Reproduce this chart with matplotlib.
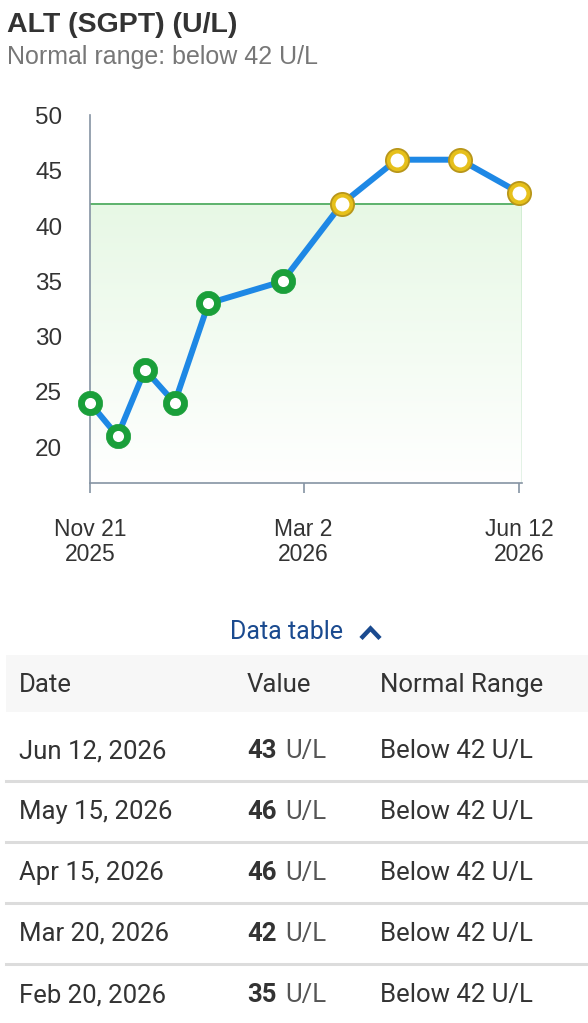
import numpy as np
import matplotlib.pyplot as plt
import matplotlib.dates as mdates
from matplotlib.lines import Line2D
from matplotlib.patches import Rectangle
from matplotlib.text import Annotation
from matplotlib.colors import LinearSegmentedColormap
from datetime import datetime

# chart data
dates = ["2025-11-21", "2025-12-04", "2025-12-17", "2025-12-31", "2026-01-16",
         "2026-02-20", "2026-03-20", "2026-04-15", "2026-05-15", "2026-06-12"]
values = [24, 21, 27, 24, 33, 35, 42, 46, 46, 43]
normal_max = 42

tick_dates = ["2025-11-21", "2026-03-02", "2026-06-12"]
tick_labels = ["Nov 21\n2025", "Mar 2\n2026", "Jun 12\n2026"]
y_ticks = [20, 25, 30, 35, 40, 45, 50]

# table data
table_dates = ["Jun 12, 2026", "May 15, 2026", "Apr 15, 2026", "Mar 20, 2026", "Feb 20, 2026"]
table_values = [43, 46, 46, 42, 35]
table_range = ["Below 42 U/L"] * 5

W, H = 588, 1023
plt.rcParams['font.family'] = ['Liberation Sans', 'DejaVu Sans']

fig = plt.figure(figsize=(W / 100, H / 100), dpi=100)


def fx(x):
    return x / W


def fy(y):
    return 1 - y / H


# header text
fig.text(fx(7), fy(25), "ALT (SGPT) (U/L)", fontsize=20.5, fontweight='bold',
         color='#333333', va='center', ha='left')
fig.text(fx(7), fy(57), "Normal range: below 42 U/L", fontsize=18,
         color='#777777', va='center', ha='left')

ax = fig.add_axes([fx(90), fy(483), fx(522) - fx(90), fy(115.5) - fy(483)])

x = mdates.date2num([datetime.strptime(d, "%Y-%m-%d") for d in dates])
xt = mdates.date2num([datetime.strptime(d, "%Y-%m-%d") for d in tick_dates])

x0, x1 = x[0], x[-1] + 1.2
y0, y1 = 16.75, 50.0
ax.set_xlim(x0, x1)
ax.set_ylim(y0, y1)

# normal range band with vertical gradient
grad = np.linspace(0, 1, 256).reshape(-1, 1)
cmap = LinearSegmentedColormap.from_list("g", ["#ffffff", "#e7f8e5"])
ax.imshow(grad, extent=[x0, x1, y0, normal_max], origin='lower', cmap=cmap,
          aspect='auto', zorder=0)
ax.plot([x0, x1], [normal_max, normal_max], color='#5db36c', lw=1.4, zorder=1)
ax.plot([x1, x1], [y0, normal_max], color='#7cc48a', lw=1.0, zorder=1)

ax.plot(x, values, color='#1e88e5', lw=4.3, zorder=2, solid_capstyle='round',
        clip_on=False)

vals = np.array(values)
high = vals >= normal_max
# (mask, ring colour, ring edge, edge width, inner white size)
styles = [(~high, '#1a9f3a', '#1a9f3a', 0.5, 8.0),
          (high, '#e6c01a', '#b8961a', 1.3, 10.0)]
for mask, face, edge, mew, inner in styles:
    ax.plot(x[mask], vals[mask], 'o', ms=18 - mew, mfc=face, mec=edge, mew=mew,
            ls='none', zorder=3, clip_on=False)
    ax.plot(x[mask], vals[mask], 'o', ms=inner, mfc='white', mec='white', mew=0,
            ls='none', zorder=4, clip_on=False)

for s in ['top', 'right']:
    ax.spines[s].set_visible(False)
for s in ['left', 'bottom']:
    ax.spines[s].set_color('#8593a3')
    ax.spines[s].set_linewidth(1.2)

ax.set_yticks(y_ticks)
ax.set_yticklabels([str(v) for v in y_ticks])
ax.tick_params(axis='y', length=0, pad=20, labelsize=17.5, labelcolor='#333333')
ax.set_xticks(xt)
ax.set_xticklabels(tick_labels, linespacing=1.1)
ax.tick_params(axis='x', length=7, width=1.2, color='#8593a3', pad=18,
               labelsize=16.5, labelcolor='#333333')
ax.patch.set_alpha(0)

# data table toggle
fig.text(fx(287), fy(632), "Data table", fontsize=18, color='#1a4a8f',
         family='Roboto', ha='center', va='center')
fig.add_artist(Line2D([fx(361), fx(370.5), fx(380)], [fy(638.5), fy(628.5), fy(638.5)],
                      color='#1a4a8f', lw=3.2, solid_capstyle='butt',
                      solid_joinstyle='miter'))

# table header
fig.add_artist(Rectangle((fx(6), fy(712)), fx(588) - fx(6), fy(655) - fy(712),
                         facecolor='#f7f7f7', edgecolor='none', zorder=0))
cols = [19, 247, 380]
for cx, lab in zip(cols, ["Date", "Value", "Normal Range"]):
    fig.text(fx(cx), fy(685), lab, fontsize=18.5, color='#333333', family='Roboto',
             ha='left', va='center')

row_y = [751, 812, 873, 934, 995]
for i, (d, v, r) in enumerate(zip(table_dates, table_values, table_range)):
    yy = row_y[i]
    fig.text(fx(cols[0]), fy(yy), d, fontsize=18.5, color='#333333', family='Roboto',
             ha='left', va='center')
    t = fig.text(fx(cols[1]), fy(yy), str(v), fontsize=18.5, color='#333333',
                 family='Roboto', fontweight='bold', ha='left', va='center')
    fig.add_artist(Annotation("U/L", xy=(1, 0.5), xycoords=t, xytext=(6, 0),
                              textcoords='offset points', fontsize=18.5,
                              color='#555555', family='Roboto',
                              ha='left', va='center'))
    fig.text(fx(cols[2]), fy(yy), r, fontsize=18.5, color='#333333', family='Roboto',
             ha='left', va='center')
    if i < len(row_y) - 1:
        ly = yy + 30
        fig.add_artist(Line2D([fx(6), fx(588)], [fy(ly), fy(ly)], color='#dcdcdc', lw=2.2))

fig.savefig("out.png", dpi=100)
